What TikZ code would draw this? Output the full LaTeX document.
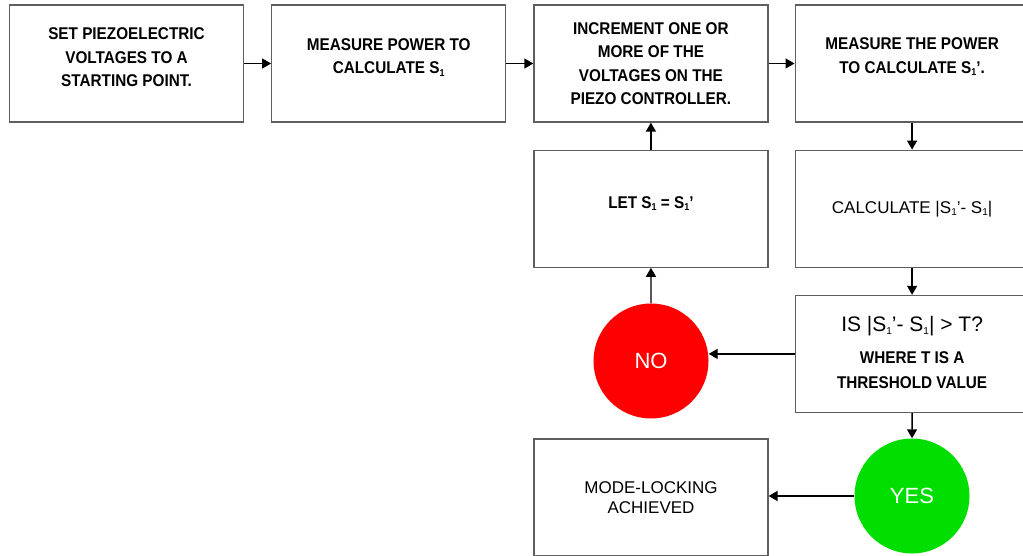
\documentclass[tikz,border=0pt]{standalone}
\usepackage{fontspec}
\setmainfont{Liberation Sans}
\newfontfamily\narrowsf[FakeStretch=0.9]{Liberation Sans}
\usetikzlibrary{positioning,arrows.meta}

\definecolor{nored}{RGB}{255,0,0}
\definecolor{yesgreen}{RGB}{0,222,0}
\definecolor{boxline}{RGB}{95,95,95}
\newcommand{\sone}{S\raisebox{-0.3ex}{\fontsize{10}{10}\selectfont 1}}

\tikzset{
  stepbox/.style={draw=boxline, line width=1.2pt, fill=white, minimum width=234pt,
                  minimum height=117pt, align=center, inner sep=0pt},
  boldtxt/.style={font=\narrowsf\bfseries\fontsize{17}{23.5}\selectfont},
  plaintxt/.style={font=\fontsize{17}{20}\selectfont},
  answer/.style={circle, minimum size=115pt, inner sep=0pt, text=white,
                 font=\fontsize{22}{26}\selectfont},
  flow/.style={-{Triangle[length=9pt,width=10pt]}, line width=1.4pt},
}

\begin{document}
\begin{tikzpicture}[x=1pt, y=-1pt]
	\clip (0,0) rectangle (1023,556);
	% top row
	\node[stepbox, boldtxt, text depth=12pt] (setv) at (126.5,63.5) {SET PIEZOELECTRIC\\VOLTAGES TO A\\STARTING POINT.};
	\node[stepbox, boldtxt, text depth=15pt, right=27pt of setv] (meas) {MEASURE POWER TO\\CALCULATE \sone};
	\node[stepbox, boldtxt, right=27pt of meas] (incr) {INCREMENT ONE OR\\MORE OF THE\\VOLTAGES ON THE\\PIEZO CONTROLLER.};
	\node[stepbox, boldtxt, text depth=16pt, right=26pt of incr] (remeas) {MEASURE THE POWER\\TO CALCULATE \sone’.};
	% loop back and test
	\node[stepbox, boldtxt, text depth=13pt, below=27pt of incr] (letS) {LET \sone{} = \sone’};
	\node[stepbox, plaintxt, below=27pt of remeas] (calc) {CALCULATE |\sone’- \sone|};
	\node[stepbox, font=\narrowsf\bfseries\fontsize{17}{25}\selectfont, text depth=4pt, below=27pt of calc] (test)
	     {{\normalfont\fontsize{21}{25}\selectfont IS |\sone’- \sone| > T?}\\[7pt]WHERE T IS A\\THRESHOLD VALUE};
	\node[stepbox, plaintxt] (done) at (651,497.5) {MODE-LOCKING\\ACHIEVED};
	% answers
	\node[answer, fill=nored] (no) at (651,361) {NO};
	\node[answer, fill=yesgreen] (yes) at (912,496) {YES};

	\draw[flow] (setv) -- (meas);
	\draw[flow] (meas) -- (incr);
	\draw[flow] (incr) -- (remeas);
	\draw[flow] (remeas) -- (calc);
	\draw[flow] (calc) -- (test);
	\draw[flow] (test.west) -- (no.east |- test.west);
	\draw[flow] (no) -- (letS);
	\draw[flow] (letS) -- (incr);
	\draw[flow] (test) -- (yes);
	\draw[flow] (yes.west) -- (done.east |- yes.west);
\end{tikzpicture}
\end{document}
